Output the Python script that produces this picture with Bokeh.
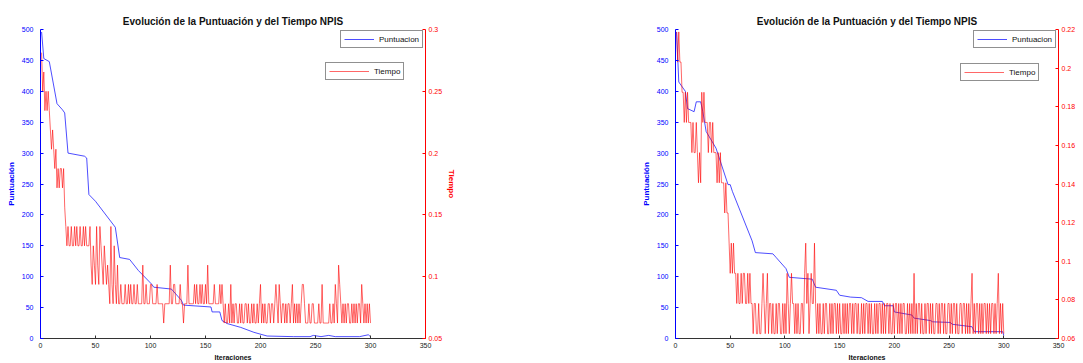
import math
from bokeh.plotting import figure
from bokeh.models import Range1d, LinearAxis, FixedTicker, Legend, LegendItem, Label
from bokeh.layouts import row
from bokeh.embed import file_html
from bokeh.resources import INLINE

TITLE = "Evolución de la Puntuación y del Tiempo NPIS"
X_LABEL = "Iteraciones"
Y_LEFT_LABEL = "Puntuación"
Y_RIGHT_LABEL = "Tiempo"
LEGEND_PUNT = "Puntuacion"
LEGEND_TIEMPO = "Tiempo"

x_ticks = [0, 50, 100, 150, 200, 250, 300, 350]
punt_ticks = [0, 50, 100, 150, 200, 250, 300, 350, 400, 450, 500]

# ---------------- Chart 1 (left) ----------------
punt1_iter = [1, 3, 8, 15, 20, 22, 25, 40, 42, 44, 50, 68, 72, 81, 89, 101, 103, 119, 128, 130,
              155, 156, 163, 165, 170, 182, 194, 206, 230, 245, 248, 255, 262, 268, 290, 298, 300]
punt1_val = [496, 453, 448, 380, 370, 365, 300, 295, 292, 233, 222, 180, 131, 128, 110, 88, 83, 80, 62, 54,
             51, 43, 43, 29, 24, 18, 10, 4, 3, 3, 5, 3, 5, 3, 3, 6, 3]
# time per iteration, in timer ticks of 1/64 s
tiempo1_q = [18, 16, 17, 15, 16, 15,
             16, 15, 14, 13, 14, 13,
             12, 13, 11, 12, 11, 12, 12, 11, 12,
             10, 9, 8,
             9, 8, 8, 9, 8, 8, 9, 8, 9, 8, 8, 9, 8, 8, 9, 8, 9, 8, 8, 8, 9,
             7, 6, 8, 7, 6, 9, 7, 6, 9, 8, 7, 6, 8, 7, 6, 7, 6, 5, 9, 6, 5, 8, 6, 5, 7,
             5, 5, 6, 5, 5, 5, 6, 5, 5, 6, 5, 6, 5, 5, 6, 5, 5, 6, 5, 5, 5, 5, 7, 5, 5, 6, 5, 5, 5, 6,
             6, 5, 5, 5, 5, 6, 5, 5, 5, 5, 5, 4, 5, 5, 5, 5, 5, 7, 5, 5, 6, 6, 5, 5, 5, 5, 6, 5, 5, 4,
             5, 5, 5, 7, 5, 5, 5, 5, 5, 6, 5, 6, 5, 5, 6, 5, 6, 5, 5, 6, 5, 7, 5, 5, 5, 5, 5, 6, 5, 5,
             5, 5, 6, 5, 6, 5,
             4, 5, 4, 4, 5, 4, 6, 4, 5, 4, 5, 5, 4, 4, 5, 4, 5, 4, 4, 5, 5, 4, 5, 4, 4, 5, 4, 5, 4, 4,
             5, 4, 5, 6, 4, 5, 4, 5, 4, 4, 5, 5, 4, 5,
             5, 4, 5, 6, 5, 4, 6, 5, 4, 5, 5, 4, 5, 4, 5, 5, 4, 5, 6, 4, 5, 4, 5, 4, 5, 4, 5, 6, 6, 5,
             4, 4, 4, 5, 4, 4, 5, 5, 4, 4, 4, 4, 5, 4, 4, 6, 4, 4, 4, 4, 4, 4, 5, 4, 4, 5, 4, 6, 5, 4,
             7, 6, 5, 4, 5, 4, 5, 4, 5, 5, 4, 4, 5, 4, 5, 4, 5, 4, 5, 5, 4, 6, 5, 4, 5, 4, 5, 4, 5, 4]
tiempo1_ticks = [0.05, 0.1, 0.15, 0.2, 0.25, 0.3]
tiempo1_labels = ["0.05", "0.1", "0.15", "0.2", "0.25", "0.3"]
tiempo1_range = (0.05, 0.3)

# ---------------- Chart 2 (right) ----------------
punt2_iter = [1, 3, 9, 11, 17, 19, 23, 25, 28, 37, 40, 48, 50, 52, 70, 73, 89, 92, 101, 104,
              125, 128, 147, 150, 160, 170, 176, 189, 191, 199, 200, 216, 218, 233, 235, 251, 253, 271, 273, 299,
              300]
punt2_val = [496, 415, 400, 372, 367, 383, 383, 367, 335, 308, 292, 249, 249, 238, 158, 139, 137, 131, 113, 99,
             96, 83, 78, 70, 67, 66, 60, 60, 53, 53, 43, 38, 33, 29, 27, 26, 23, 19, 11, 11,
             5]
tiempo2_q = [14, 13, 14, 13, 13, 12,
             12, 11, 12, 11, 12, 11, 11,
             11, 10, 11, 10, 10, 11, 10, 9, 10, 9,
             12, 11, 12, 11, 11,
             11, 10, 11, 11, 10, 11, 10, 10,
             10, 9, 10, 9, 10, 9, 9,
             9, 8, 9, 8, 8,
             7, 6, 7, 6, 7, 6,
             6, 5, 6, 5, 5, 6, 5, 6, 6, 5, 5, 6, 5, 6, 5, 5,
             4, 5, 5, 4, 4, 5, 4, 4, 5, 6, 5, 4, 5, 6, 4, 5, 5, 4, 5, 4, 4, 5, 4, 5, 5, 4, 4, 5, 4, 5,
             4, 6, 5, 4, 5, 6, 5, 5, 4, 5, 4, 5, 4, 4, 5, 5, 4, 6, 7, 5, 6, 4, 5, 6, 5, 5, 7, 5, 4, 5,
             4, 5, 4, 4, 5, 4, 5, 5, 4, 4, 5, 4, 5, 4, 5, 5, 4, 5, 4, 5, 4, 4, 5, 4, 5, 4, 5, 4, 5, 5,
             4, 5, 4, 5, 5, 4, 5, 4, 4, 5, 4, 5, 4, 5, 5, 4, 5, 4, 5, 4, 4, 5, 4, 5, 4, 5, 5, 4, 5, 4,
             5, 4, 5, 5, 4, 5, 4, 4, 5, 4, 5, 5, 4, 5, 4, 5, 4, 5, 5, 4, 4, 5, 4, 5, 4, 5, 4, 6, 4, 5,
             4, 5, 5, 4, 5, 4, 4, 5, 4, 5, 5, 4, 5, 4, 5, 4, 4, 5, 5, 4, 5, 4, 5, 5, 4, 5, 4, 4, 5, 5,
             4, 5, 4, 5, 5, 4, 5, 4, 4, 5, 5, 4, 5, 5, 4, 5, 4, 5, 4, 5, 6, 4, 5, 4, 5, 5, 4, 5, 4, 5,
             4, 5, 5, 4, 5, 4, 5, 4, 5, 5, 4, 5, 4, 5, 6, 4, 5, 4, 5, 4]
tiempo2_ticks = [0.06, 0.08, 0.1, 0.12, 0.14, 0.16, 0.18, 0.2, 0.22]
tiempo2_labels = ["0.06", "0.08", "0.1", "0.12", "0.14", "0.16", "0.18", "0.2", "0.22"]
tiempo2_range = (0.06, 0.22)

TIMER_TICK = 1 / 64  # seconds per timer tick

FONT = "Liberation Sans"
BLUE = "#0000ff"
RED = "#ff0000"


def style_legend(leg, glyph_w):
    leg.border_line_color = "#222222"
    leg.border_line_width = 0.7
    leg.background_fill_color = "white"
    leg.background_fill_alpha = 1.0
    leg.padding = 3
    leg.margin = 0
    leg.spacing = 0
    leg.label_text_font = FONT
    leg.label_text_font_size = "8px"
    leg.label_text_color = "#111111"
    leg.glyph_height = 10
    leg.glyph_width = glyph_w
    leg.label_height = 10
    leg.label_standoff = 5


def make_panel(punt_x, punt_y, t_q, t_range, t_ticks, t_labels, width, border_right,
               loc_p, loc_t, right_label_as_axis):
    p = figure(width=width, height=363, output_backend="svg", toolbar_location=None,
               x_range=Range1d(0, 350), y_range=Range1d(0, 500),
               min_border_left=40, min_border_right=border_right,
               min_border_top=29, min_border_bottom=23, title=TITLE)
    p.outline_line_color = None
    p.xgrid.visible = False
    p.ygrid.visible = False
    p.background_fill_color = "white"
    p.border_fill_color = "white"

    p.title.align = "center"
    p.title.text_font = FONT
    p.title.text_font_size = "10px"
    p.title.text_font_style = "bold"
    p.title.text_color = "#111111"
    p.title.standoff = 6

    xa = p.xaxis[0]
    xa.ticker = FixedTicker(ticks=x_ticks)
    xa.axis_label = X_LABEL
    xa.axis_label_text_font = FONT
    xa.axis_label_text_font_size = "7px"
    xa.axis_label_text_font_style = "bold"
    xa.axis_label_text_color = "#111111"
    xa.axis_label_standoff = 3
    xa.major_label_text_font = FONT
    xa.major_label_text_font_size = "7px"
    xa.major_label_text_color = "#222222"
    xa.major_label_standoff = 4
    xa.major_tick_in = 3
    xa.major_tick_out = 0
    xa.minor_tick_in = 0
    xa.minor_tick_out = 0
    xa.axis_line_color = "#333333"
    xa.major_tick_line_color = "#333333"

    ya = p.yaxis[0]
    ya.ticker = FixedTicker(ticks=punt_ticks)
    ya.axis_label = Y_LEFT_LABEL
    ya.axis_label_text_font = FONT
    ya.axis_label_text_font_size = "8px"
    ya.axis_label_text_font_style = "bold"
    ya.axis_label_text_color = BLUE
    ya.axis_label_standoff = 3
    ya.major_label_text_font = FONT
    ya.major_label_text_font_size = "7px"
    ya.major_label_text_color = BLUE
    ya.major_label_standoff = 7
    ya.major_tick_in = 3
    ya.major_tick_out = 0
    ya.minor_tick_in = 0
    ya.minor_tick_out = 0
    ya.axis_line_color = BLUE
    ya.major_tick_line_color = BLUE

    p.extra_y_ranges = {"tiempo": Range1d(*t_range)}
    ra = LinearAxis(y_range_name="tiempo", ticker=FixedTicker(ticks=t_ticks),
                    major_label_overrides=dict(zip(t_ticks, t_labels)))
    if right_label_as_axis:
        ra.axis_label = Y_RIGHT_LABEL
        ra.axis_label_text_font = FONT
        ra.axis_label_text_font_size = "8px"
        ra.axis_label_text_font_style = "bold"
        ra.axis_label_text_color = RED
        ra.axis_label_standoff = 2
    ra.major_label_text_font = FONT
    ra.major_label_text_font_size = "7px"
    ra.major_label_text_color = RED
    ra.major_label_standoff = 3
    ra.major_tick_in = 3
    ra.major_tick_out = 0
    ra.minor_tick_in = 0
    ra.minor_tick_out = 0
    ra.axis_line_color = RED
    ra.major_tick_line_color = RED
    p.add_layout(ra, "right")

    if not right_label_as_axis:
        lab = Label(x=367.6, y=250, text=Y_RIGHT_LABEL, angle=-math.pi / 2,
                    text_font=FONT, text_font_size="7px", text_font_style="bold",
                    text_color=RED, text_align="center", text_baseline="middle")
        p.add_layout(lab)

    r_b = p.line(punt_x, punt_y, line_color=BLUE, line_width=0.7)
    iters = list(range(1, len(t_q) + 1))
    tiempo = [q * TIMER_TICK for q in t_q]
    r_r = p.line(iters, tiempo, y_range_name="tiempo", line_color=RED, line_width=0.6)

    leg_p = Legend(items=[LegendItem(label=LEGEND_PUNT, renderers=[r_b])], location=loc_p)
    style_legend(leg_p, 30)
    leg_t = Legend(items=[LegendItem(label=LEGEND_TIEMPO, renderers=[r_r])], location=loc_t)
    style_legend(leg_t, 40)
    p.add_layout(leg_p)
    p.add_layout(leg_t)
    return p


p1 = make_panel(punt1_iter, punt1_val, tiempo1_q, tiempo1_range, tiempo1_ticks, tiempo1_labels,
                635, 210, (300, 290), (285, 258), True)
p2 = make_panel(punt2_iter, punt2_val, tiempo2_q, tiempo2_range, tiempo2_ticks, tiempo2_labels,
                448, 25, (298, 290), (285, 257), False)

layout = row(p1, p2)
open("out.html", "w").write(file_html(layout, INLINE))
